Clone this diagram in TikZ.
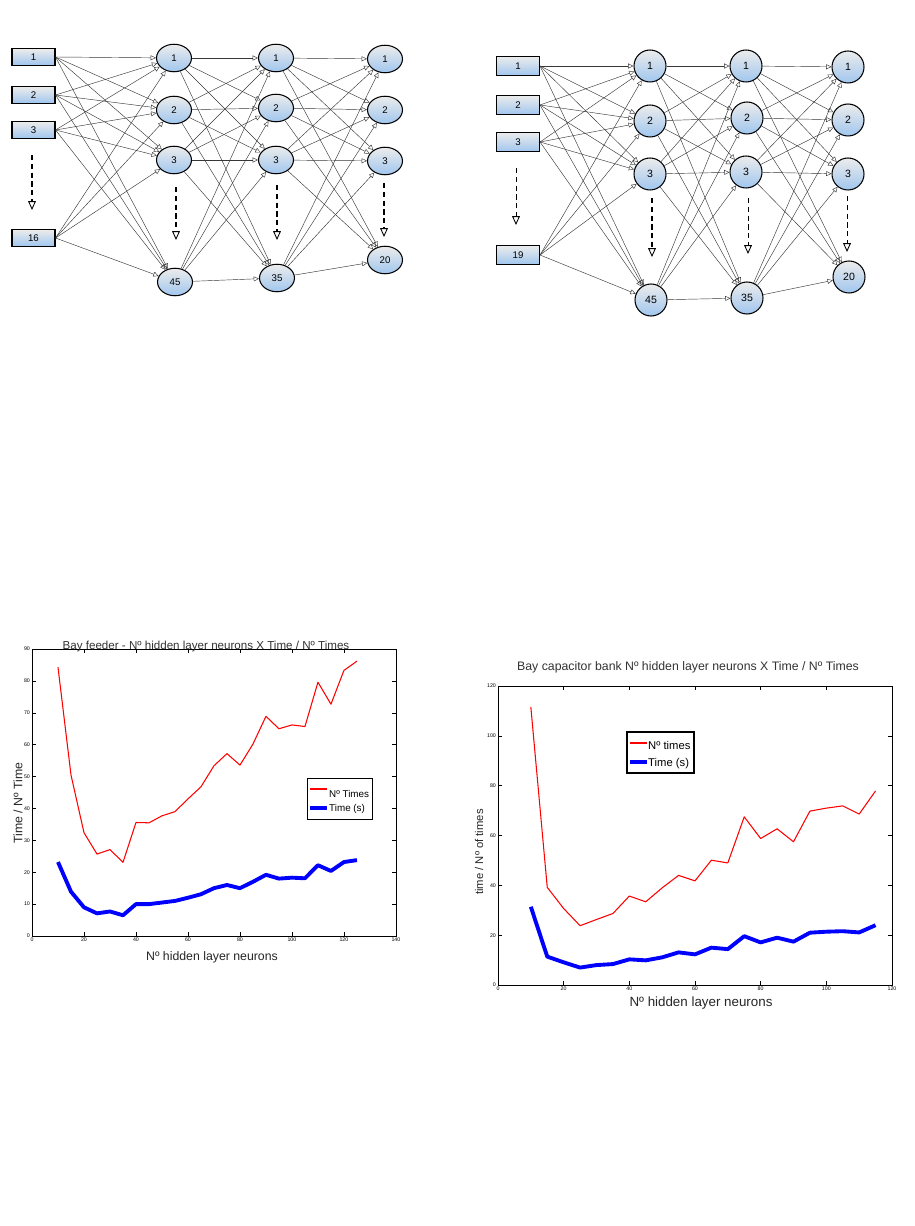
\documentclass[tikz,border=0pt]{standalone}
\usepackage{fontspec}
\setmainfont{Liberation Sans}
\usetikzlibrary{positioning, arrows.meta, shapes.geometric}

\definecolor{nodeblue}{RGB}{160,198,238}
\definecolor{edgegray}{RGB}{55,55,55}

\tikzset{
  inbox/.style={draw=black, line width=0.6pt, top color=gray!15, bottom color=nodeblue,
    minimum width=0.86cm, minimum height=0.33cm, inner sep=0pt, font=\fontsize{5.5}{6}\selectfont},
  lneuron/.style={ellipse, draw=black, line width=0.6pt, top color=gray!15, bottom color=nodeblue,
    minimum width=0.70cm, minimum height=0.55cm, inner sep=0pt, font=\fontsize{5.5}{6}\selectfont},
  rneuron/.style={circle, draw=black, line width=0.6pt, top color=gray!15, bottom color=nodeblue,
    minimum size=0.64cm, inner sep=0pt, font=\fontsize{6}{7}\selectfont},
  link/.style={draw=edgegray, line width=0.25pt, -{Triangle[open,length=3pt,width=2.8pt]}},
  more/.style={line width=0.8pt, dash pattern=on 3pt off 2pt,
    -{Triangle[open,length=5pt,width=4.4pt,line width=0.5pt]}},
  thinmore/.style={line width=0.4pt, dash pattern=on 3pt off 2pt,
    -{Triangle[open,length=5pt,width=4.4pt,line width=0.5pt]}},
  redcurve/.style={red, line width=0.6pt, line join=round},
  bluecurve/.style={blue, line width=2.2pt, line join=round},
  ticklab/.style={font=\fontsize{3}{3}\selectfont, inner sep=1pt},
  plottitle/.style={font=\fontsize{6.6}{7}\selectfont, text=black!80},
  axislab/.style={font=\fontsize{7}{8}\selectfont, text=black!85},
  legtext/.style={font=\fontsize{5.6}{6}\selectfont, anchor=west, inner sep=0.5pt}
}

\begin{document}
\begin{tikzpicture}[x=0.02cm, y=-0.02cm]
\path[fill=white, use as bounding box] (0,0) rectangle (915,1226);

\node[inbox] (li1) at (33.5,57) {1};
\node[inbox] (li2) at (33.5,95) {2};
\node[inbox] (li3) at (33.5,130) {3};
\node[inbox] (li16) at (33.5,238) {16};

\node[lneuron] (lh1) at (174,58) {1};
\node[lneuron] (lh2) at (174,110) {2};
\node[lneuron] (lh3) at (174,160) {3};
\node[lneuron] (lh45) at (175,282) {45};

\node[lneuron] (lg1) at (276,58) {1};
\node[lneuron] (lg2) at (276,108) {2};
\node[lneuron] (lg3) at (276,160) {3};
\node[lneuron] (lg35) at (277,278) {35};

\node[lneuron] (lo1) at (385,59) {1};
\node[lneuron] (lo2) at (385,110) {2};
\node[lneuron] (lo3) at (385,161) {3};
\node[lneuron] (lo20) at (385,260) {20};

\foreach \a in {1,2,3,16}
  \foreach \b in {1,2,3,45}
    \draw[link] (li\a.east) -- (lh\b);
\foreach \a in {1,2,3,45}
  \foreach \b in {1,2,3,35}
    \draw[link] (lh\a) -- (lg\b);
\foreach \a in {1,2,3,35}
  \foreach \b in {1,2,3,20}
    \draw[link] (lg\a) -- (lo\b);

\coordinate (lis) at (32,155);
\coordinate (lie) at (32,210);
\coordinate (lhs) at (176,187);
\coordinate (lhe) at (176,240);
\coordinate (lgs) at (277,185);
\coordinate (lge) at (277,240);
\coordinate (los) at (384,183);
\coordinate (loe) at (384,237);
\draw[more] (lis) -- (lie);
\draw[more] (lhs) -- (lhe);
\draw[more] (lgs) -- (lge);
\draw[more] (los) -- (loe);

\node[inbox, minimum height=0.39cm] (ri1) at (518,66) {1};
\node[inbox, minimum height=0.39cm] (ri2) at (518,105) {2};
\node[inbox, minimum height=0.39cm] (ri3) at (518,142) {3};
\node[inbox, minimum height=0.39cm] (ri19) at (518,255) {19};

\node[rneuron] (rh1) at (650,66) {1};
\node[rneuron] (rh2) at (650,121) {2};
\node[rneuron] (rh3) at (650,174) {3};
\node[rneuron] (rh45) at (651,300) {45};

\node[rneuron] (rg1) at (746,66) {1};
\node[rneuron] (rg2) at (747,118) {2};
\node[rneuron] (rg3) at (746,172) {3};
\node[rneuron] (rg35) at (747,298) {35};

\node[rneuron] (ro1) at (848,67) {1};
\node[rneuron] (ro2) at (848,120) {2};
\node[rneuron] (ro3) at (848,174) {3};
\node[rneuron] (ro20) at (849,277) {20};

\foreach \a in {1,2,3,19}
  \foreach \b in {1,2,3,45}
    \draw[link] (ri\a.east) -- (rh\b);
\foreach \a in {1,2,3,45}
  \foreach \b in {1,2,3,35}
    \draw[link] (rh\a) -- (rg\b);
\foreach \a in {1,2,3,35}
  \foreach \b in {1,2,3,20}
    \draw[link] (rg\a) -- (ro\b);

\coordinate (ris) at (516,168);
\coordinate (rie) at (516,225);
\coordinate (rhs) at (652,198);
\coordinate (rhe) at (652,257);
\coordinate (rgs) at (748,198);
\coordinate (rge) at (748,254);
\coordinate (ros) at (847,196);
\coordinate (roe) at (847,252);
\draw[thinmore] (ris) -- (rie);
\draw[more] (rhs) -- (rhe);
\draw[thinmore] (rgs) -- (rge);
\draw[thinmore] (ros) -- (roe);

\begin{scope}[shift={(32,936)}, x=0.052cm, y=0.06378cm]
\draw[line width=0.4pt] (0,0) rectangle (140,90);
\foreach \xv in {0,20,...,140} {
  \draw[line width=0.3pt] (\xv,0) -- (\xv,1.2);
  \draw[line width=0.3pt] (\xv,90) -- (\xv,88.8);
  \node[ticklab, below] (lxt\xv) at (\xv,0) {\xv};
}
\foreach \yv in {0,10,...,90} {
  \draw[line width=0.3pt] (0,\yv) -- (1.5,\yv);
  \draw[line width=0.3pt] (140,\yv) -- (138.5,\yv);
  \node[ticklab, left] (lyt\yv) at (0,\yv) {\yv};
}
\draw[redcurve] plot coordinates {(10,84.3) (15,50.5) (20,32.4) (25,25.7) (30,27.1) (35,23.1)
  (40,35.6) (45,35.5) (50,37.7) (55,39) (60,43) (65,46.8) (70,53.4) (75,57.2) (80,53.6)
  (85,60.2) (90,68.9) (95,65) (100,66.2) (105,65.7) (110,79.6) (115,72.7) (120,83.3) (125,86.2)};
\draw[bluecurve] plot coordinates {(10,23.2) (15,13.9) (20,9) (25,7.1) (30,7.7) (35,6.5)
  (40,10) (45,10) (50,10.5) (55,11) (60,12) (65,13.1) (70,15) (75,16) (80,15) (85,17)
  (90,19.2) (95,18) (100,18.3) (105,18.1) (110,22.2) (115,20.4) (120,23.2) (125,23.8)};
\end{scope}

\node[plottitle] (ltitle) at (206,646) {Bay feeder - Nº hidden layer neurons X Time / Nº Times};
\node[axislab, rotate=90] (lylab) at (18,803) {Time / Nº Time};
\node[axislab] (lxlab) at (212,957) {Nº hidden layer neurons};
\draw[line width=0.5pt, fill=white] (307,778) rectangle (372,819);
\draw[red, line width=0.6pt] (310,789) -- (327,789);
\node[legtext] (lleg1) at (328,794) {Nº Times};
\draw[blue, line width=2.2pt] (310,808) -- (327,808);
\node[legtext] (lleg2) at (328,809) {Time (s)};

\begin{scope}[shift={(498,985)}, x=0.06567cm, y=0.04983cm]
\draw[line width=0.4pt] (0,0) rectangle (120,120);
\foreach \xv in {0,20,...,120} {
  \draw[line width=0.3pt] (\xv,0) -- (\xv,1.6);
  \draw[line width=0.3pt] (\xv,120) -- (\xv,118.4);
  \node[ticklab, below] (rxt\xv) at (\xv,0) {\xv};
}
\foreach \yv in {0,20,...,120} {
  \draw[line width=0.3pt] (0,\yv) -- (1.2,\yv);
  \draw[line width=0.3pt] (120,\yv) -- (118.8,\yv);
  \node[ticklab, left] (ryt\yv) at (0,\yv) {\yv};
}
\draw[redcurve] plot coordinates {(10,111.6) (15,39.2) (20,30.7) (25,23.8) (30,26.3) (35,28.7)
  (40,35.7) (45,33.4) (50,39) (55,44) (60,41.8) (65,50.1) (70,49) (75,67.5) (80,58.8)
  (85,62.7) (90,57.5) (95,69.8) (100,71) (105,71.9) (110,68.6) (115,77.9)};
\draw[bluecurve] plot coordinates {(10,31.4) (15,11.4) (20,9.1) (25,7) (30,8) (35,8.4)
  (40,10.3) (45,9.9) (50,11.1) (55,13.1) (60,12.3) (65,15) (70,14.4) (75,19.6) (80,17.1)
  (85,19) (90,17.4) (95,21) (100,21.4) (105,21.6) (110,21.1) (115,24)};
\end{scope}

\node[plottitle, font=\fontsize{7}{8}\selectfont] (rtitle) at (688,667) {Bay capacitor bank Nº hidden layer neurons X Time / Nº Times};
\node[axislab, font=\fontsize{6.4}{7}\selectfont, rotate=90] (rylab) at (479,852) {time / Nº of times};
\node[axislab, font=\fontsize{7.6}{8}\selectfont] (rxlab) at (701,1003) {Nº hidden layer neurons};
\draw[line width=0.8pt, fill=white] (627,732) rectangle (694,773);
\draw[red, line width=0.6pt] (630,743) -- (647,743);
\node[legtext, font=\fontsize{6.4}{7}\selectfont] (rleg1) at (647,745) {Nº times};
\draw[blue, line width=2.2pt] (630,762) -- (647,762);
\node[legtext, font=\fontsize{6.4}{7}\selectfont] (rleg2) at (647,764) {Time (s)};
\end{tikzpicture}
\end{document}
